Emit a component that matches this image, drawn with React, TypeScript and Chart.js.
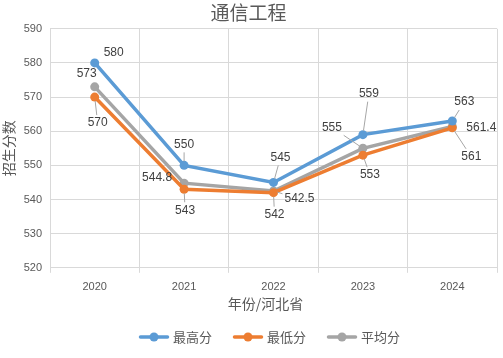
import React, { useEffect, useRef } from "react";
import { Chart, registerables } from "chart.js";

Chart.register(...registerables);

const years = ["2020", "2021", "2022", "2023", "2024"];
const highest = [580, 550, 545, 559, 563];
const lowest = [570, 543, 542, 553, 561];
const average = [573, 544.8, 542.5, 555, 561.4];
const seriesNames = ["最高分", "最低分", "平均分"];
const seriesColors = ["#5B9BD5", "#ED7D31", "#A5A5A5"];
const yTicks = [520, 530, 540, 550, 560, 570, 580, 590];
const xTitle = "年份/河北省";

// label placement: [dx, dy, leader]
const labelOffsets: [number, number, number][][] = [
  [[19, -10, 0], [0, -21, 1], [7, -25, 1], [6, -41, 1], [12, -19, 1]],
  [[3, 26, 1], [1, 21, 1], [1, 22, 1], [7, 20, 1], [19, 29, 1]],
  [[-8, -13, 0], [-27, -5, 0], [26, 8, 1], [-31, -21, 1], [29, 1, 0]],
];

const FONT = "'Liberation Sans', 'Noto Sans CJK SC', sans-serif";
const CJK = "'Noto Sans CJK SC', 'Liberation Sans', sans-serif";

const labelPlugin = {
  id: "dataLabels",
  afterDatasetsDraw(chart: any) {
    const ctx = chart.ctx;
    ctx.save();
    ctx.font = `12px ${FONT}`;
    ctx.textAlign = "center";
    ctx.textBaseline = "middle";
    chart.data.datasets.forEach((ds: any, i: number) => {
      const meta = chart.getDatasetMeta(i);
      meta.data.forEach((pt: any, j: number) => {
        const [dx, dy, leader] = labelOffsets[i][j];
        const lx = pt.x + dx;
        const ly = pt.y + dy;
        const text = String(ds.data[j]);
        if (leader) {
          const w = ctx.measureText(text).width / 2 + 2;
          const h = 8;
          const vx = pt.x - lx;
          const vy = pt.y - ly;
          const s = Math.min(
            Math.abs(vx) > 0.01 ? w / Math.abs(vx) : Infinity,
            Math.abs(vy) > 0.01 ? h / Math.abs(vy) : Infinity
          );
          const ex = lx + vx * s;
          const ey = ly + vy * s;
          const len = Math.hypot(pt.x - ex, pt.y - ey);
          if (s < 1 && len > 6) {
            const ux = (pt.x - ex) / len;
            const uy = (pt.y - ey) / len;
            ctx.strokeStyle = "#A6A6A6";
            ctx.lineWidth = 1;
            ctx.beginPath();
            ctx.moveTo(ex, ey);
            ctx.lineTo(pt.x - ux * 4, pt.y - uy * 4);
            ctx.stroke();
          }
        }
        ctx.fillStyle = "#404040";
        ctx.fillText(text, lx, ly);
      });
    });
    ctx.restore();
  },
};

const legendPlugin = {
  id: "lineLegend",
  afterDraw(chart: any) {
    const ctx = chart.ctx;
    ctx.save();
    // x axis title
    ctx.font = `14px ${CJK}`;
    ctx.textBaseline = "middle";
    ctx.textAlign = "center";
    ctx.fillStyle = "#595959";
    const area = chart.chartArea;
    ctx.fillText(xTitle, (area.left + area.right) / 2 - 8, area.bottom + 36);

    // legend
    ctx.font = `13px ${CJK}`;
    ctx.textAlign = "left";
    const iconW = 30;
    const gapIcon = 4;
    const gapItem = 21;
    const names = chart.data.datasets.map((d: any) => d.label);
    const widths = names.map((n: string) => iconW + gapIcon + ctx.measureText(n).width);
    let x = 139;
    const y = chart.height - 21;
    names.forEach((n: string, i: number) => {
      const c = chart.data.datasets[i].borderColor;
      ctx.strokeStyle = c;
      ctx.fillStyle = c;
      ctx.lineWidth = 3.5;
      ctx.lineCap = "round";
      ctx.beginPath();
      ctx.moveTo(x + 1.5, y);
      ctx.lineTo(x + iconW - 1.5, y);
      ctx.stroke();
      ctx.beginPath();
      ctx.arc(x + iconW / 2, y, 4.5, 0, Math.PI * 2);
      ctx.fill();
      ctx.fillStyle = "#595959";
      ctx.fillText(n, x + iconW + gapIcon, y);
      x += widths[i] + gapItem;
    });
    ctx.restore();
  },
};

export default function App() {
  const ref = useRef<HTMLCanvasElement>(null);
  useEffect(() => {
    document.body.style.margin = "0";
    const data = [highest, lowest, average];
    const chart = new Chart(ref.current!, {
      type: "line",
      data: {
        labels: years,
        datasets: data.map((d, i) => ({
          label: seriesNames[i],
          data: d,
          borderColor: seriesColors[i],
          backgroundColor: seriesColors[i],
          borderWidth: 3.5,
          pointRadius: 4.5,
          pointHoverRadius: 4.5,
          pointBorderWidth: 0,
          tension: 0,
        })),
      },
      options: {
        animation: false,
        responsive: false,
        layout: { padding: { left: 0, right: 6, top: 0, bottom: 56 } },
        plugins: {
          tooltip: { enabled: false },
          legend: { display: false },
          title: {
            display: true,
            text: "通信工程",
            color: "#595959",
            font: { size: 19, family: CJK, weight: "normal" },
            padding: { top: 1, bottom: 5 },
          },
        },
        scales: {
          x: {
            offset: true,
            grid: {
              offset: true,
              color: "#D9D9D9",
              tickLength: 5,
              drawTicks: true,
            },
            border: { color: "#D9D9D9" },
            ticks: {
              color: "#595959",
              font: { size: 11, family: FONT },
              padding: 8,
            },
          },
          y: {
            min: 520,
            max: 590,
            afterBuildTicks: (scale: any) => {
              scale.ticks = yTicks.map((v) => ({ value: v }));
            },
            afterFit: (scale: any) => {
              scale.width = 50;
            },
            grid: { color: "#D9D9D9", drawTicks: false },
            border: { display: false },
            ticks: {
              color: "#595959",
              font: { size: 11, family: FONT },
              padding: 8,
            },
            title: {
              display: true,
              text: "招生分数",
              color: "#595959",
              font: { size: 14, family: CJK },
              padding: { top: 0, bottom: 0 },
            },
          },
        },
      },
      plugins: [labelPlugin, legendPlugin],
    });
    return () => chart.destroy();
  }, []);
  return (
    <div style={{ width: 503, height: 358, background: "#fff" }}>
      <canvas ref={ref} width={503} height={358} />
    </div>
  );
}
